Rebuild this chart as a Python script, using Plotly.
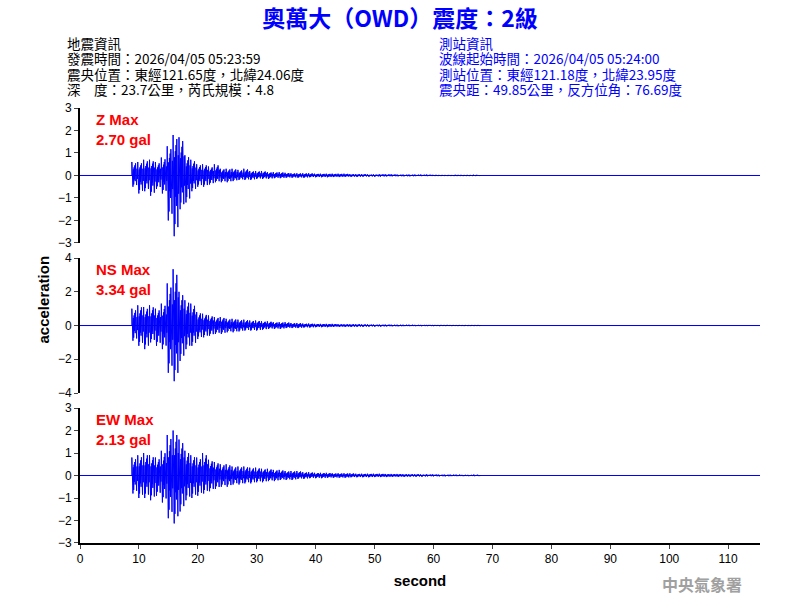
import plotly.graph_objects as go

seconds = list(range(9, 68))
z_up = [0.6,0.6,0.7,0.7,0.6,0.8,1.3,1.8,1.7,0.9,0.7,0.5,0.5,0.4,0.5,0.3,0.3,0.3,0.25,0.3,0.2,0.2,0.2,0.15,0.15,0.15,0.12,0.1,0.1,0.1,0.1,0.08,0.08,0.08,0.08,0.08,0.08,0.06,0.06,0.06,0.05,0.05,0.05,0.05,0.05,0.04,0.04,0.04,0.04,0.04,0.04,0.03,0.02,0.02,0.02,0.03,0.02,0.02,0.03]
z_lo = [-0.5,-0.8,-0.7,-0.9,-0.6,-0.8,-2.0,-2.7,-1.5,-1.2,-0.7,-0.5,-0.5,-0.4,-0.3,-0.3,-0.3,-0.25,-0.2,-0.2,-0.2,-0.15,-0.15,-0.15,-0.12,-0.12,-0.1,-0.1,-0.1,-0.1,-0.08,-0.08,-0.08,-0.08,-0.07,-0.07,-0.06,-0.06,-0.06,-0.05,-0.05,-0.05,-0.05,-0.04,-0.04,-0.04,-0.04,-0.04,-0.03,-0.03,-0.03,-0.02,-0.02,-0.02,-0.02,-0.02,-0.02,-0.02,-0.02]
ns_up = [1.0,1.2,1.1,1.2,1.0,1.3,2.5,3.34,2.0,1.5,1.3,0.8,0.7,0.6,0.5,0.5,0.4,0.4,0.35,0.35,0.3,0.3,0.25,0.25,0.2,0.2,0.2,0.15,0.15,0.12,0.12,0.1,0.1,0.1,0.1,0.08,0.08,0.08,0.08,0.07,0.07,0.06,0.06,0.06,0.05,0.05,0.05,0.05,0.04,0.04,0.04,0.03,0.03,0.03,0.02,0.02,0.02,0.02,0.02]
ns_lo = [-0.9,-1.2,-1.4,-1.0,-1.2,-1.4,-2.8,-3.3,-2.1,-1.4,-1.2,-0.8,-0.7,-0.6,-0.5,-0.5,-0.4,-0.4,-0.35,-0.3,-0.3,-0.3,-0.25,-0.2,-0.2,-0.2,-0.15,-0.15,-0.15,-0.12,-0.12,-0.1,-0.1,-0.1,-0.08,-0.08,-0.08,-0.08,-0.07,-0.07,-0.06,-0.06,-0.06,-0.05,-0.05,-0.05,-0.04,-0.04,-0.04,-0.04,-0.03,-0.03,-0.03,-0.02,-0.02,-0.02,-0.02,-0.02,-0.02]
ew_up = [0.8,0.9,1.0,0.9,0.8,1.1,1.8,2.0,1.6,1.1,0.9,0.8,1.0,0.7,0.6,0.5,0.5,0.4,0.4,0.4,0.35,0.35,0.3,0.3,0.25,0.25,0.2,0.2,0.2,0.15,0.15,0.12,0.12,0.12,0.1,0.1,0.1,0.1,0.08,0.08,0.08,0.08,0.08,0.07,0.07,0.07,0.06,0.06,0.06,0.05,0.05,0.05,0.04,0.04,0.04,0.04,0.03,0.03,0.04]
ew_lo = [-0.8,-1.0,-1.0,-1.1,-0.9,-1.2,-1.9,-2.13,-1.6,-1.1,-1.0,-0.9,-0.8,-0.7,-0.6,-0.5,-0.5,-0.4,-0.4,-0.35,-0.35,-0.3,-0.3,-0.25,-0.25,-0.2,-0.2,-0.2,-0.15,-0.15,-0.12,-0.12,-0.12,-0.1,-0.1,-0.1,-0.1,-0.08,-0.08,-0.08,-0.08,-0.07,-0.07,-0.07,-0.06,-0.06,-0.06,-0.05,-0.05,-0.05,-0.04,-0.04,-0.04,-0.04,-0.03,-0.03,-0.03,-0.03,-0.03]
components = ["Z", "NS", "EW"]
pga = ["2.70", "3.34", "2.13"]
yranges = [3, 4, 3]
x_ticks = list(range(0, 111, 10))

# drawing style: oscillation shape within each second (display only)
SHAPE = [1.0, 0.55, 0.7, 1.0, 0.45, 0.8, 0.6, 0.35, 0.75, 0.5, 0.9, 0.4, 0.65, 0.85, 0.5, 0.3]

def trace_pts(up, lo):
    xs, ys = [0, 8.8], [0, 0]
    n = len(SHAPE)
    for t, u, l in zip(seconds, up, lo):
        for k, f in enumerate(SHAPE):
            xs.append(t - 0.2 + k / n)
            ys.append(u * f if k % 2 == 0 else l * f)
    xs += [seconds[-1] + 1, 116]
    ys += [0, 0]
    return xs, ys

L, R, T, B = 80, 760, 108, 543
def px(xp, yp):
    return (xp - L) / (R - L), (B - yp) / (B - T)

fig = go.Figure()
doms = [[0.6897, 1.0], [0.3448, 0.655], [0.0, 0.3103]]
data = [(z_up, z_lo), (ns_up, ns_lo), (ew_up, ew_lo)]
font = "Liberation Sans, Arial"
for i, (up, lo) in enumerate(data):
    xs, ys = trace_pts(up, lo)
    ax = "" if i == 0 else str(i + 1)
    fig.add_trace(go.Scatter(x=xs, y=ys, mode="lines", line=dict(color="#0000ff", width=1),
                             xaxis="x" + ax, yaxis="y" + ax, showlegend=False, hoverinfo="skip"))
    r = yranges[i]
    fig.layout["yaxis" + ax] = dict(domain=doms[i], range=[-r, r], dtick=1 if r == 3 else 2,
        showline=True, linecolor="black", linewidth=2, ticks="outside", ticklen=4, showgrid=False,
        zeroline=True, zerolinecolor="black", zerolinewidth=1, anchor="x" + ax, automargin=False,
        tickfont=dict(family=font, size=12, color="black"))
    fig.layout["xaxis" + ax] = dict(range=[0, 115.4], showgrid=False, zeroline=False,
        anchor="y" + ax, matches=None if i == 0 else "x", automargin=False,
        showticklabels=(i == 2), showline=(i == 2), linecolor="black", linewidth=2,
        ticks="outside" if i == 2 else "", ticklen=4, tickvals=x_ticks,
        tickfont=dict(family=font, size=12, color="black"))
    fig.add_annotation(x=0.02, y=doms[i][1] - 0.003, xref="paper", yref="paper", xanchor="left", yanchor="top",
        text=f"<b>{components[i]} Max<br>{pga[i]} gal</b>", showarrow=False, align="left",
        font=dict(family=font, size=15, color="#ff0000"))

fig.layout.xaxis3.title = dict(text="<b>second</b>", font=dict(family=font, size=15, color="black"), standoff=10)

cjk = "Noto Sans CJK TC"
left = ["地震資訊", "發震時間：2026/04/05 05:23:59", "震央位置：東經121.65度，北緯24.06度", "深　度：23.7公里，芮氏規模：4.8"]
right = ["測站資訊", "波線起始時間：2026/04/05 05:24:00", "測站位置：東經121.18度，北緯23.95度", "震央距：49.85公里，反方位角：76.69度"]
fig.update_layout(width=800, height=600, margin=dict(l=L, r=800 - R, t=T, b=600 - B, autoexpand=False),
                  plot_bgcolor="white", paper_bgcolor="white",
                  title=dict(text="<b>奧萬大（OWD）震度：2級</b>", x=0.5, xanchor="center", xref="container",
                             y=1 - 19 / 600, yanchor="middle", yref="container",
                             font=dict(family=cjk, size=23, color="#0000ff")))
for j, (a, b) in enumerate(zip(left, right)):
    yp = 43 + j * 15.3
    x1, y1 = px(65, yp)
    x2, _ = px(437, yp)
    fig.add_annotation(x=x1, y=y1, xref="paper", yref="paper", xanchor="left", yanchor="middle", text=a,
                       showarrow=False, font=dict(family=cjk, size=13.5, color="black"))
    fig.add_annotation(x=x2, y=y1, xref="paper", yref="paper", xanchor="left", yanchor="middle", text=b,
                       showarrow=False, font=dict(family=cjk, size=13.5, color="#0000ff"))
xw, yw = px(702, 570)
fig.add_annotation(x=xw, y=yw, xref="paper", yref="paper", xanchor="center", yanchor="top", text="<b>中央氣象署</b>", showarrow=False,
                   font=dict(family=cjk, size=16, color="#a0a0a0"))
xa, ya = px(32, 300)
fig.add_annotation(x=xa, y=ya, xref="paper", yref="paper", text="<b>acceleration</b>", textangle=-90, showarrow=False,
                   font=dict(family=font, size=15, color="black"))
fig.write_html("out.html", config={"displayModeBar": False}, post_script="document.body.style.margin='0';")
